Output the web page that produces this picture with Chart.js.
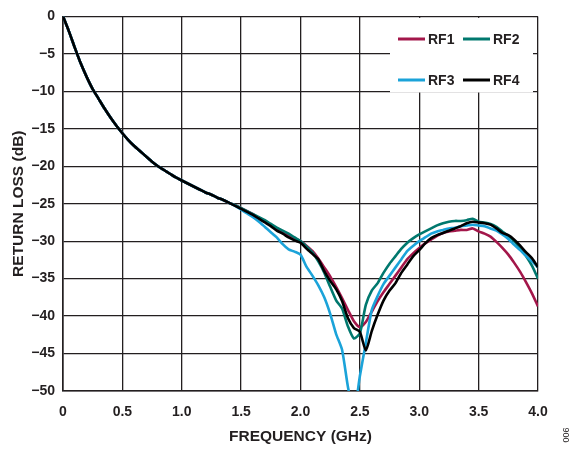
<!DOCTYPE html>
<html>
<head>
<meta charset="utf-8">
<script src="https://cdn.jsdelivr.net/npm/chart.js@4.4.1/dist/chart.umd.min.js"></script>
<style>
    html, body { margin: 0; padding: 0; background: #fff; }
    #wrap { position: relative; width: 576px; height: 449px; }
</style>
</head>
<body>
<div id="wrap"><canvas id="lossChart" width="576" height="449"></canvas></div>
<script>
// frequency points (GHz)
const freqGHz = [
    0, 0.05, 0.1, 0.15, 0.2, 0.25, 0.3, 0.35, 0.4, 0.45,
    0.5, 0.55, 0.6, 0.65, 0.7, 0.75, 0.8, 0.85, 0.9, 0.95,
    1.0, 1.05, 1.1, 1.15, 1.2, 1.25, 1.3, 1.35, 1.4,
    1.45, 1.5, 1.55, 1.6, 1.65, 1.7, 1.75, 1.8, 1.85, 1.9, 1.95, 2.0,
    2.05, 2.1, 2.15, 2.2, 2.25, 2.3, 2.35, 2.4, 2.45, 2.5,
    2.55, 2.6, 2.65, 2.7, 2.75, 2.8, 2.85, 2.9, 2.95, 3.0,
    3.05, 3.1, 3.15, 3.2, 3.25, 3.3, 3.35, 3.4, 3.45, 3.5,
    3.55, 3.6, 3.65, 3.7, 3.75, 3.8, 3.85, 3.9, 3.95, 4.0,
];

// 0 to 1.4 GHz - all four ports lie on top of each other
const sharedLoss = [
    0, -2.0, -4.2, -6.3, -8.1, -9.7, -11.0, -12.3, -13.5, -14.6,
    -15.6, -16.5, -17.3, -18.0, -18.7, -19.4, -20.0, -20.5, -21.0, -21.5,
    -21.9, -22.3, -22.7, -23.1, -23.5, -23.8, -24.2, -24.5, -24.9,
];

// 1.45 to 4.0 GHz per port
const rf1Tail = [
    -25.2, -25.6, -26.0, -26.4, -26.9, -27.3, -27.8, -28.3, -28.8, -29.2, -29.6, -30.0,
    -30.6, -31.3, -32.3, -33.5, -34.7, -36.1, -37.6, -39.2, -40.7, -41.5,
    -40.8, -39.4, -38.0, -36.8, -35.7, -34.6, -33.5, -32.4, -31.6, -30.9,
    -30.3, -29.8, -29.3, -28.9, -28.7, -28.6, -28.5, -28.5, -28.3, -28.7,
    -29.0, -29.4, -30.1, -30.9, -31.8, -32.9, -34.1, -35.5, -37.0, -38.7,
];
const rf2Tail = [
    -25.2, -25.6, -26.0, -26.4, -26.8, -27.2, -27.7, -28.2, -28.6, -29.0, -29.5, -30.0,
    -30.7, -31.5, -32.7, -34.2, -36.1, -37.9, -39.0, -41.4, -43.0, -42.3,
    -38.5, -36.6, -35.6, -34.2, -33.0, -32.0, -31.0, -30.2, -29.6, -29.1,
    -28.7, -28.3, -27.9, -27.6, -27.4, -27.3, -27.3, -27.2, -27.0, -27.4,
    -27.5, -27.7, -28.1, -28.7, -29.3, -30.0, -31.0, -32.0, -33.3, -35.0,
];
const rf3Tail = [
    -25.3, -25.8, -26.3, -26.8, -27.4, -28.1, -28.8, -29.5, -30.4, -31.1, -31.4, -31.8,
    -33.4, -34.6, -35.9, -37.5, -39.7, -42.4, -44.5, -49.5, -53.0, -48.0,
    -43.6, -39.2, -37.3, -35.7, -34.6, -33.5, -32.4, -31.3, -30.6, -30.0,
    -29.5, -29.0, -28.7, -28.5, -28.3, -28.2, -28.0, -27.9, -27.8, -27.9,
    -28.0, -28.3, -28.6, -29.1, -29.7, -30.5, -31.2, -32.0, -32.7, -33.5,
];
const rf4Tail = [
    -25.3, -25.7, -26.1, -26.5, -27.0, -27.5, -28.0, -28.6, -29.0, -29.5, -29.9, -30.2,
    -31.0, -31.7, -32.4, -34.0, -35.3, -36.4, -38.0, -40.3, -41.6, -42.1,
    -44.6, -42.0, -39.8, -37.9, -36.6, -35.6, -34.2, -33.1, -32.0, -31.2,
    -30.3, -29.6, -29.2, -28.9, -28.6, -28.3, -28.0, -27.6, -27.4, -27.5,
    -27.6, -27.8, -28.3, -28.9, -29.2, -29.8, -30.6, -31.5, -32.3, -33.5,
];

const seriesNames = ["RF1", "RF2", "RF3", "RF4"];
const seriesColors = ["#a3174a", "#00786e", "#1ba3d9", "#000000"];
const seriesTails = [rf1Tail, rf2Tail, rf3Tail, rf4Tail];

const FONT = '"Liberation Sans", Arial, Helvetica, sans-serif';

function toPoints(values) {
    return values.map((v, i) => ({ x: freqGHz[i], y: v }));
}

const datasets = seriesNames.map((name, i) => ({
    label: name,
    data: toPoints(sharedLoss.concat(seriesTails[i])),
    borderColor: seriesColors[i],
    borderWidth: 2.6,
    pointRadius: 0,
    tension: 0.2,
    fill: false,
    order: 3 - i, // black (RF4) ends up on top
}));

// legend in a white box in the top right corner, plus the little figure number
const boxLegend = {
    id: "boxLegend",
    afterDraw(chart) {
        const ctx = chart.ctx;
        const x = chart.scales.x;
        const y = chart.scales.y;
        ctx.save();
        ctx.fillStyle = "#fff";
        ctx.fillRect(390, y.top + 1.5, x.right - 5 - 390, 91 - y.top);

        const slots = [
            { x: 398, y: 39 }, { x: 463, y: 39 },
            { x: 398, y: 80 }, { x: 463, y: 80 },
        ];
        ctx.font = "bold 14px " + FONT;
        ctx.textBaseline = "middle";
        ctx.textAlign = "left";
        seriesNames.forEach((name, i) => {
            const s = slots[i];
            ctx.strokeStyle = seriesColors[i];
            ctx.lineWidth = 3;
            ctx.beginPath();
            ctx.moveTo(s.x, s.y);
            ctx.lineTo(s.x + 27, s.y);
            ctx.stroke();
            ctx.fillStyle = "#231f20";
            ctx.fillText(name, s.x + 30, s.y + 1);
        });

        ctx.translate(567, 435);
        ctx.rotate(-Math.PI / 2);
        ctx.font = "9px " + FONT;
        ctx.textAlign = "center";
        ctx.fillStyle = "#231f20";
        ctx.fillText("006", 0, 0);
        ctx.restore();
    },
};

const ctx = document.getElementById("lossChart").getContext("2d");
new Chart(ctx, {
    type: "line",
    data: { datasets: datasets },
    options: {
        responsive: false,
        animation: false,
        layout: { padding: { top: 12, right: 38, left: 0, bottom: 0 } },
        plugins: {
            legend: { display: false },
            tooltip: { enabled: false },
        },
        scales: {
            x: {
                type: "linear",
                min: 0,
                max: 4,
                afterFit(scale) { scale.height = 58; },
                ticks: {
                    stepSize: 0.5,
                    padding: 13,
                    color: "#231f20",
                    font: { family: FONT, size: 14, weight: "bold" },
                    callback: (v) => (v === 0 ? "0" : v.toFixed(1)),
                },
                grid: { color: "#231f20", lineWidth: 1.3, drawTicks: false },
                border: { color: "#231f20", width: 1.6 },
                title: {
                    display: true,
                    text: "FREQUENCY (GHz)",
                    color: "#231f20",
                    font: { family: FONT, size: 15.5, weight: "bold" },
                    padding: { top: 0, bottom: 3 },
                },
            },
            y: {
                min: -50,
                max: 0,
                afterFit(scale) { scale.width = 63; },
                ticks: {
                    stepSize: 5,
                    padding: 8,
                    color: "#231f20",
                    font: { family: FONT, size: 14, weight: "bold" },
                    callback: (v) => String(v).replace("-", "\u2212"),
                },
                grid: { color: "#231f20", lineWidth: 1.3, drawTicks: false },
                border: { color: "#231f20", width: 1.6 },
                title: {
                    display: true,
                    text: "RETURN LOSS (dB)",
                    color: "#231f20",
                    font: { family: FONT, size: 15.5, weight: "bold" },
                    padding: { top: 9, bottom: 0 },
                },
            },
        },
    },
    plugins: [boxLegend],
});
</script>
</body>
</html>
